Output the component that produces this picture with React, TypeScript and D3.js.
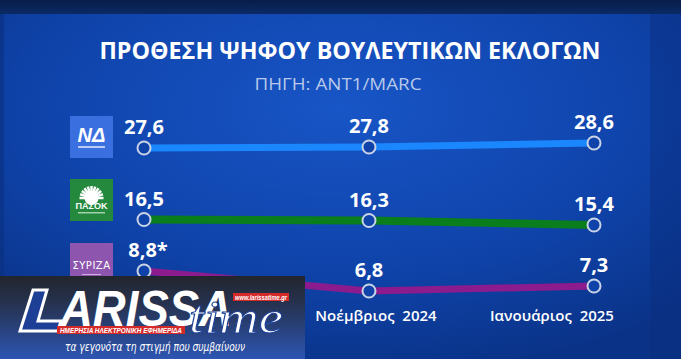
import React from "react";
import * as d3 from "d3";

const months = ["Οκτώβριος 2024", "Νοέμβριος 2024", "Ιανουάριος 2025"];
const parties = ["ΝΔ", "ΠΑΣΟΚ", "ΣΥΡΙΖΑ"];
const ndValues = [27.6, 27.8, 28.6];
const pasokValues = [16.5, 16.3, 15.4];
const syrizaValues = [8.8, 6.8, 7.3];
const syrizaNotes = ["*", "", ""];
const title = "ΠΡΟΘΕΣΗ ΨΗΦΟΥ ΒΟΥΛΕΥΤΙΚΩΝ ΕΚΛΟΓΩΝ";
const subtitle = "ΠΗΓΗ: ΑΝΤ1/MARC";

const W = 681;
const H = 359;

const series = [
  { name: parties[0], values: ndValues, notes: ["", "", ""], color: "#1b87ff", width: 7, logoY: 116, logoFill: "#3a6fe0" },
  { name: parties[1], values: pasokValues, notes: ["", "", ""], color: "#0a7d1d", width: 8, logoY: 179, logoFill: "#24893d" },
  { name: parties[2], values: syrizaValues, notes: syrizaNotes, color: "#8c1c8e", width: 7, logoY: 243, logoFill: "#8d55ae" },
];

// the first month label sits under the publisher's banner, so it is not drawn
const axisLabelDx = [0, 7, -42];
const axisLabelShown = [false, true, true];

const fmt = (v: number) => d3.format(".1f")(v).replace(".", ",");

export default function App() {
  const x = d3.scalePoint<string>().domain(months).range([144, 594]);
  // piecewise scale: the broadcast graphic compresses the empty gaps between rows
  const y = d3
    .scaleLinear()
    .domain([6, 9, 15, 17, 27, 29])
    .range([299, 269, 227, 217, 151, 141]);

  const line = d3
    .line<number>()
    .x((_, i) => x(months[i]) as number)
    .y((d) => y(d));

  const bg = "#0f43aa";

  return (
    <svg
      width={W}
      height={H}
      style={{ position: "absolute", left: 0, top: 0, display: "block" }}
      fontFamily="'Open Sans', sans-serif"
    >
      <defs>
        <radialGradient id="bgGrad" cx="0.5" cy="0.3" r="0.75">
          <stop offset="0" stopColor="#1855c6" />
          <stop offset="0.6" stopColor="#0f43aa" />
          <stop offset="1" stopColor="#0a3388" />
        </radialGradient>
        <linearGradient id="topBand" x1="0" y1="0" x2="0" y2="1">
          <stop offset="0" stopColor="#081d48" />
          <stop offset="1" stopColor="#0b2a66" />
        </linearGradient>
        <linearGradient id="ovGrad" x1="0" y1="0" x2="0" y2="1">
          <stop offset="0" stopColor="#22252d" />
          <stop offset="0.35" stopColor="#263352" />
          <stop offset="1" stopColor="#2d55b2" />
        </linearGradient>
      </defs>

      <rect x={0} y={0} width={W} height={H} fill="url(#bgGrad)" />
      <rect x={0} y={0} width={W} height={14} fill="url(#topBand)" />
      <rect x={0} y={14} width={4} height={H - 14} fill="#0a3080" opacity={0.6} />
      <rect x={650} y={14} width={31} height={H - 14} fill="#082c78" opacity={0.35} />

      <text
        x={350}
        y={59}
        textAnchor="middle"
        fill="#ffffff"
        fontWeight={700}
        fontSize={23}
        textLength={501}
        lengthAdjust="spacingAndGlyphs"
      >
        {title}
      </text>
      <text
        x={338}
        y={90}
        textAnchor="middle"
        fill="#b9c8ea"
        fontWeight={400}
        fontSize={17}
        textLength={167}
        lengthAdjust="spacingAndGlyphs"
      >
        {subtitle}
      </text>

      {/* logos */}
      {series.map((s, si) => (
        <g key={"logo" + si} transform={`translate(70,${s.logoY})`}>
          <rect width={43} height={42} fill={s.logoFill} />
          {si === 0 && (
            <g>
              <text x={21.5} y={26} textAnchor="middle" fill="#fff" fontWeight={800} fontStyle="italic" fontSize={20} fontFamily="'Liberation Sans', sans-serif">
                ΝΔ
              </text>
              <rect x={8} y={30} width={27} height={2} fill="#d8e2ff" opacity={0.8} />
            </g>
          )}
          {si === 1 && (
            <g>
              {d3.range(11).map((k) => {
                const a = Math.PI + (k * Math.PI) / 10;
                return (
                  <line
                    key={k}
                    x1={21.5 + Math.cos(a) * 6}
                    y1={19 + Math.sin(a) * 6}
                    x2={21.5 + Math.cos(a) * 12}
                    y2={19 + Math.sin(a) * 12}
                    stroke="#fff"
                    strokeWidth={2.5}
                  />
                );
              })}
              <circle cx={21.5} cy={19} r={7} fill="#fff" />
              <text x={21.5} y={30} textAnchor="middle" fill="#fff" fontWeight={800} fontSize={9} fontFamily="'Liberation Sans', sans-serif">
                ΠΑΣΟΚ
              </text>
              <rect x={8} y={33} width={27} height={1.5} fill="#d8f0dd" opacity={0.7} />
            </g>
          )}
          {si === 2 && (
            <g>
              <text x={21.5} y={26} textAnchor="middle" fill="#fff" fontSize={10} fontFamily="'DejaVu Sans', sans-serif" letterSpacing={0.5}>
                ΣΥΡΙΖΑ
              </text>
              <rect x={12} y={31} width={19} height={1} fill="#e6d6f0" opacity={0.7} />
            </g>
          )}
        </g>
      ))}

      {/* lines */}
      {series.map((s, si) => (
        <path key={"l" + si} d={line(s.values) || ""} fill="none" stroke={s.color} strokeWidth={s.width} />
      ))}

      {/* points and labels */}
      {series.map((s, si) =>
        s.values.map((v, i) => (
          <g key={`p${si}-${i}`}>
            <circle cx={x(months[i])} cy={y(v)} r={6.5} fill={bg} stroke="#c9d3e6" strokeWidth={2} />
            <text
              x={(x(months[i]) as number) + (s.notes[i] ? 4 : 0)}
              y={y(v) - 14}
              textAnchor="middle"
              fill="#ffffff"
              fontWeight={700}
              fontSize={20}
            >
              {fmt(v) + s.notes[i]}
            </text>
          </g>
        ))
      )}

      {/* x labels */}
      {months.map((m, i) =>
        axisLabelShown[i] ? (
          <text
            key={"m" + i}
            x={(x(m) as number) + axisLabelDx[i]}
            y={321}
            textAnchor="middle"
            fill="#ffffff"
            fontWeight={600}
            fontSize={15}
          >
            {m.replace(" ", "\u00a0\u00a0")}
          </text>
        ) : null
      )}

      {/* overlay logo */}
      <g>
        <rect x={0} y={276} width={305} height={83} fill="url(#ovGrad)" />
        <path
          d="M33 290 L47 290 L38 321 L61 321 L58 331 L20 331 Z"
          fill="#1d3f96"
          stroke="#ffffff"
          strokeWidth={3}
          strokeLinejoin="miter"
        />
        <text
          x={60}
          y={326}
          fill="#ffffff"
          fontWeight={700}
          fontStyle="italic"
          fontSize={50}
          fontFamily="'Liberation Sans', sans-serif"
          textLength={172}
          lengthAdjust="spacingAndGlyphs"
        >
          ARISSA
        </text>
        <rect x={233} y={293} width={56} height={8} fill="#d42a2a" />
        <text
          x={261}
          y={299.5}
          textAnchor="middle"
          fill="#ffffff"
          fontWeight={700}
          fontStyle="italic"
          fontSize={7}
          fontFamily="'Liberation Sans', sans-serif"
          textLength={52}
          lengthAdjust="spacingAndGlyphs"
        >
          www.larissatime.gr
        </text>
        <text
          x={189}
          y={333}
          fill="#ffffff"
          fontStyle="italic"
          fontSize={46}
          fontFamily="'Liberation Serif', serif"
          textLength={94}
          lengthAdjust="spacingAndGlyphs"
          stroke="#1d3f96"
          strokeWidth={1}
        >
          time
        </text>
        <rect x={57} y={326} width={128} height={8} fill="#d42a2a" />
        <text
          x={121}
          y={332.5}
          textAnchor="middle"
          fill="#ffffff"
          fontWeight={700}
          fontStyle="italic"
          fontSize={7.5}
          fontFamily="'Liberation Sans', sans-serif"
          textLength={122}
          lengthAdjust="spacingAndGlyphs"
        >
          ΗΜΕΡΗΣΙΑ ΗΛΕΚΤΡΟΝΙΚΗ ΕΦΗΜΕΡΙΔΑ
        </text>
        <text
          x={155}
          y={351}
          textAnchor="middle"
          fill="#ffffff"
          fontStyle="italic"
          fontSize={12}
          fontFamily="'DejaVu Sans', sans-serif"
          textLength={180}
          lengthAdjust="spacingAndGlyphs"
        >
          τα γεγονότα τη στιγμή που συμβαίνουν
        </text>
      </g>
    </svg>
  );
}
